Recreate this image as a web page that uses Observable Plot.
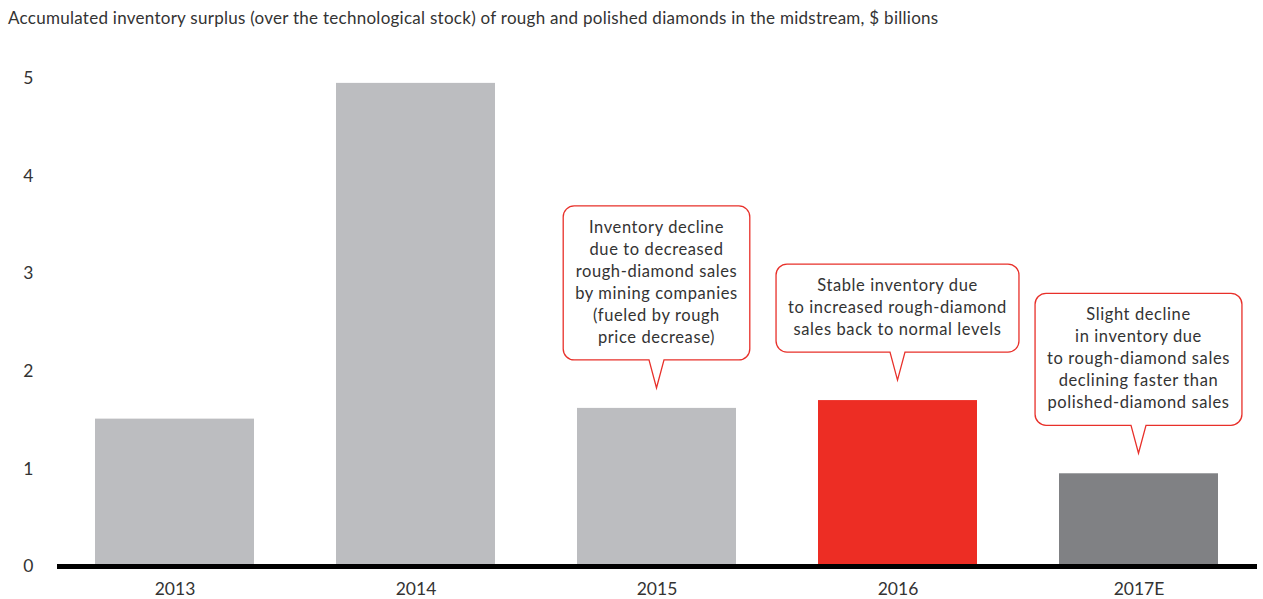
<!DOCTYPE html>
<html><head><meta charset="utf-8">
<script src="https://cdn.jsdelivr.net/npm/d3@7"></script>
<script src="https://cdn.jsdelivr.net/npm/@observablehq/plot@0.6"></script>
<style>
body{margin:0;background:#fff;font-family:Lato, sans-serif;}
#title{height:28px;padding-top:8px;padding-left:8px;font-size:17px;letter-spacing:0.27px;line-height:20px;color:#333;white-space:nowrap;}
#chart svg{display:block;overflow:visible;}
</style></head><body>
<div id="title"></div>
<div id="chart"></div>
<script>
const titleText = "Accumulated inventory surplus (over the technological stock) of rough and polished diamonds in the midstream, $ billions";
const years = ["2013", "2014", "2015", "2016", "2017E"];
const values = [1.51, 4.95, 1.62, 1.70, 0.95];
const barColors = ["#bcbdc0", "#bcbdc0", "#bcbdc0", "#ed2d24", "#808184"];
const yTicks = [0, 1, 2, 3, 4, 5];
const noteYears = ["2015", "2016", "2017E"];
const noteLines = [
  ["Inventory decline", "due to decreased", "rough-diamond sales", "by mining companies", "(fueled by rough", "price decrease)"],
  ["Stable inventory due", "to increased rough-diamond", "sales back to normal levels"],
  ["Slight decline", "in inventory due", "to rough-diamond sales", "declining faster than", "polished-diamond sales"]
];

document.getElementById("title").textContent = titleText;

const data = years.map((year, i) => ({year, value: values[i], color: barColors[i]}));

const plot = Plot.plot({
  width: 1263,
  height: 563,
  marginLeft: 57,
  marginRight: 6,
  marginTop: 42,
  marginBottom: 33,
  style: {fontFamily: "Lato, sans-serif", fontSize: "17.5px", color: "#333", background: "transparent"},
  x: {domain: years, paddingInner: 0.34, paddingOuter: 0.157, label: null, tickSize: 0, tickPadding: 16},
  y: {domain: [0, 5], ticks: yTicks, label: null, tickSize: 0, tickPadding: 24, tickFormat: d => String(d)},
  color: {type: "identity"},
  marks: [
    Plot.barY(data, {x: "year", y: "value", fill: "color"}),
    Plot.ruleY([0], {stroke: "#000", strokeWidth: 5})
  ]
});
document.getElementById("chart").append(plot);

const xs = plot.scale("x"), ys = plot.scale("y");
const svg = d3.select(plot);
const lineH = 22, pad = 12, tipGap = 20, pointerLen = 28, halfBase = 7.5, r = 11;

noteYears.forEach((yr, k) => {
  const lines = noteLines[k];
  const val = values[years.indexOf(yr)];
  const cx = xs.apply(yr) + xs.bandwidth / 2;
  const tipY = ys.apply(val) - tipGap;
  const bottom = tipY - pointerLen;
  const h = lines.length * lineH + 22;
  const top = bottom - h;
  const g = svg.append("g");
  const path = g.append("path");
  const t = g.append("text")
    .attr("text-anchor", "middle")
    .attr("font-family", "Lato, sans-serif")
    .attr("font-size", 16.5)
    .attr("letter-spacing", 0.6)
    .attr("fill", "#333");
  lines.forEach((l, i) => t.append("tspan").attr("x", cx).attr("y", top + 27 + i * lineH).text(l));
  const w = t.node().getBBox().width + 2 * pad;
  const L = cx - w / 2, R = cx + w / 2;
  const d = [
    `M${L + r},${top}`,
    `H${R - r}`, `A${r},${r} 0 0 1 ${R},${top + r}`,
    `V${bottom - r}`, `A${r},${r} 0 0 1 ${R - r},${bottom}`,
    `H${cx + halfBase}`, `L${cx},${tipY}`, `L${cx - halfBase},${bottom}`,
    `H${L + r}`, `A${r},${r} 0 0 1 ${L},${bottom - r}`,
    `V${top + r}`, `A${r},${r} 0 0 1 ${L + r},${top}`, "Z"
  ].join("");
  path.attr("d", d).attr("fill", "#fff").attr("stroke", "#e8302a").attr("stroke-width", 1.3);
});
</script>
</body></html>
